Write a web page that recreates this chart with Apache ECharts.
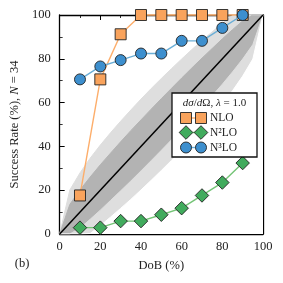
<!DOCTYPE html>
<html><head><meta charset="utf-8">
<script src="https://cdn.jsdelivr.net/npm/echarts@6/dist/echarts.min.js"></script>
<style>html,body{margin:0;padding:0;background:#fff}#c{width:283px;height:283px}</style>
</head><body><div id="c"></div>
<script>
// ---- data ----
const dob = [10, 20, 30, 40, 50, 60, 70, 80, 90];
const nlo = [17.6, 70.6, 91.2, 100, 100, 100, 100, 100, 100];
const n2lo = [2.9, 2.9, 5.9, 5.9, 8.8, 11.8, 17.6, 23.5, 32.4];
const n3lo = [70.6, 76.5, 79.4, 82.4, 82.4, 88.2, 88.2, 94.1, 100];
const diagX = [0, 100];
const diagY = [0, 100];
const bandX = [0, 5, 10, 15, 20, 25, 30, 35, 40, 45, 50, 55, 60, 65, 70, 75, 80, 85, 90, 95, 100];
const lightLower = [0, 0, 0, 0.2, 3.8, 7.7, 11.7, 15.8, 20.1, 24.5, 29, 33.6, 38.4, 43.4, 48.5, 53.8, 59.4, 65.4, 72.1, 79.9, 100];
const lightUpper = [0, 20.1, 27.9, 34.6, 40.6, 46.2, 51.5, 56.6, 61.6, 66.4, 71, 75.5, 79.9, 84.2, 88.3, 92.3, 96.2, 99.8, 100, 100, 100];
const darkLower = [0, 0, 2.7, 6.7, 10.9, 15.3, 19.7, 24.2, 28.8, 33.5, 38.2, 43, 47.9, 52.8, 57.9, 63.1, 68.4, 74, 79.9, 86.5, 100];
const darkUpper = [0, 13.5, 20.1, 26.0, 31.6, 36.9, 42.1, 47.2, 52.1, 57.0, 61.8, 66.5, 71.2, 75.8, 80.3, 84.7, 89.1, 93.3, 97.3, 100, 100];
const xTicks = [0, 20, 40, 60, 80, 100];
const yTicks = [0, 20, 40, 60, 80, 100];
const seriesNames = ['NLO', 'N²LO', 'N³LO'];

// ---- styles ----
const FONT = '"Liberation Serif", "DejaVu Serif", serif';
const C_NLO = '#f9a35c', L_NLO = '#fdae6b';
const C_N2 = '#41ab5d', L_N2 = '#74c476';
const C_N3 = '#3d8fce', L_N3 = '#6baed6';
const EDGE = '#222';
const LIGHT = '#dedede', DARK = '#b3b3b3';

const zip = (xs, ys) => xs.map((x, i) => [x, ys[i]]);

function axisCommon(show) {
  return {
    type: 'value', min: 0, max: 100, interval: 20,
    axisLine: {show: true, onZero: false, lineStyle: {color: '#000', width: 1.3}},
    axisTick: {show: true, inside: true, length: 5, lineStyle: {color: '#000', width: 1}},
    minorTick: {show: true, splitNumber: 2, length: 3, lineStyle: {color: '#000', width: 0.8}},
    splitLine: {show: false},
    axisLabel: {show: show, color: '#222', fontFamily: FONT, fontSize: 12.5}
  };
}

const chart = echarts.init(document.getElementById('c'), null, {renderer: 'canvas'});
const xb = axisCommon(true);
xb.position = 'bottom';
xb.axisLabel.margin = 6;
xb.axisLabel.formatter = v => (xTicks.includes(v) ? String(v) : '');
xb.name = 'DoB (%)';
xb.nameLocation = 'middle';
xb.nameGap = 25;
xb.nameTextStyle = {fontFamily: FONT, fontSize: 12.5, color: '#222'};
const xt = axisCommon(false); xt.position = 'top';
const yl = axisCommon(true);
yl.position = 'left';
yl.axisLabel.margin = 9;
yl.axisLabel.formatter = v => (yTicks.includes(v) ? String(v) : '');
yl.name = '{n|Success Rate (%), }{i|N}{n| = 34}';
yl.nameLocation = 'middle';
yl.nameGap = 36;
yl.nameTextStyle = {fontFamily: FONT, fontSize: 12.5, color: '#222',
  rich: {n: {fontFamily: FONT, fontSize: 12.5, color: '#222'}, i: {fontFamily: FONT, fontSize: 12.5, fontStyle: 'italic', color: '#222'}}};
const yr = axisCommon(false); yr.position = 'right';

// band edges painted in layers: each area fills from its edge down to y = 0
function layer(name, vals, color, z) {
  return {name: name, type: 'line', data: zip(bandX, vals), symbol: 'none', silent: true, z: z,
    color: color, itemStyle: {color: color},
    lineStyle: {width: 1, color: color}, areaStyle: {color: color, opacity: 1, origin: 'start'}};
}
function dataSeries(name, ys, symbol, size, fill, line, z) {
  return {name: name, type: 'line', data: zip(dob, ys), symbol: symbol, symbolSize: size, clip: false,
    color: fill,
    lineStyle: {color: line, width: 1.4}, itemStyle: {color: fill, borderColor: EDGE, borderWidth: 0.9}, z: z};
}

// legend (drawn as graphics)
const LX = 172, LY = 93, LW = 85, LH = 64;
function legendRow(y, symbol, fill, line, label) {
  const els = [{type: 'line', shape: {x1: 186, y1: y, x2: 201, y2: y}, style: {stroke: line, lineWidth: 1.4}, z: 101}];
  [186, 201].forEach(cx => {
    let shp;
    if (symbol === 'rect') shp = {type: 'rect', shape: {x: cx - 5.5, y: y - 5.5, width: 11, height: 11}};
    else if (symbol === 'circle') shp = {type: 'circle', shape: {cx: cx, cy: y, r: 5.5}};
    else shp = {type: 'polygon', shape: {points: [[cx, y - 6.8], [cx + 6.8, y], [cx, y + 6.8], [cx - 6.8, y]]}};
    shp.style = {fill: fill, stroke: EDGE, lineWidth: 0.9};
    shp.z = 102;
    els.push(shp);
  });
  els.push({type: 'text', x: 210, y: y, style: {text: label, fontFamily: FONT, fontSize: 11.5, fill: '#222', verticalAlign: 'middle', align: 'left'}, z: 102});
  return els;
}

const option = {
  animation: false,
  backgroundColor: '#fff',
  grid: {left: 56, right: 20, top: 15, bottom: 49, containLabel: false},
  xAxis: [xb, xt],
  yAxis: [yl, yr],
  series: [
    layer('light-upper', lightUpper, LIGHT, 1),
    layer('dark-upper', darkUpper, DARK, 1),
    layer('dark-lower', darkLower, LIGHT, 1),
    layer('light-lower', lightLower, '#ffffff', 1),
    {name: 'diag', type: 'line', data: zip(diagX, diagY), symbol: 'none', color: '#000', lineStyle: {color: '#000', width: 1.5}, silent: true, z: 4},
    dataSeries(seriesNames[0], nlo, 'rect', 11, C_NLO, L_NLO, 5),
    dataSeries(seriesNames[1], n2lo, 'diamond', 13.5, C_N2, L_N2, 6),
    dataSeries(seriesNames[2], n3lo, 'circle', 11, C_N3, L_N3, 7)
  ],
  graphic: [
    {type: 'rect', shape: {x: LX, y: LY, width: LW, height: LH}, style: {fill: '#fff', stroke: '#111', lineWidth: 1.3}, z: 100},
    {type: 'text', x: LX + LW / 2, y: 103, z: 102,
      style: {text: '{i|dσ}{n|/}{i|d}{n|Ω, }{i|λ}{n| = 1.0}', align: 'center', verticalAlign: 'middle',
        rich: {i: {fontFamily: FONT, fontSize: 11, fontStyle: 'italic', fill: '#222'}, n: {fontFamily: FONT, fontSize: 11, fill: '#222'}}}},
    ...legendRow(118, 'rect', C_NLO, L_NLO, seriesNames[0]),
    ...legendRow(132.5, 'diamond', C_N2, L_N2, seriesNames[1]),
    ...legendRow(147.5, 'circle', C_N3, L_N3, seriesNames[2]),
    {type: 'text', x: 22, y: 264, style: {text: '(b)', fontFamily: FONT, fontSize: 12.5, fill: '#222', align: 'center', verticalAlign: 'middle'}, z: 10}
  ]
};
chart.setOption(option);
</script></body></html>
